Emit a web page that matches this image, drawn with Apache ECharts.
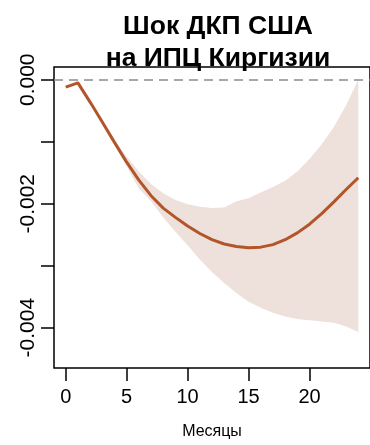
<!DOCTYPE html>
<html>
<head>
<meta charset="utf-8">
<script src="https://cdn.jsdelivr.net/npm/echarts@6/dist/echarts.min.js"></script>
<style>
  html, body { margin: 0; padding: 0; background: #fff; }
  #chart { width: 370px; height: 445px; }
</style>
</head>
<body>
<div id="chart"></div>
<script>
// Impulse response: horizon in months
const months = [0,1,2,3,4,5,6,7,8,9,10,11,12,13,14,15,16,17,18,19,20,21,22,23,24];
// Point estimate of the response
const response = [-0.00012,-0.00005,-0.00036,-0.00068,-0.00101,-0.00133,-0.00162,-0.00187,-0.00207,-0.00222,
  -0.00236,-0.00248,-0.00258,-0.00265,-0.00269,-0.00271,-0.00270,-0.00266,-0.00258,-0.00247,
  -0.00233,-0.00216,-0.00197,-0.00177,-0.00158];
// Confidence band bounds
const upperBound = [-0.00012,-0.00005,-0.00036,-0.00067,-0.00097,-0.00124,-0.00148,-0.00168,-0.00183,-0.00194,
  -0.00201,-0.00205,-0.00207,-0.00206,-0.00196,-0.00191,-0.00182,-0.00173,-0.00163,-0.00148,
  -0.00128,-0.00104,-0.00076,-0.00041,0.00000];
const lowerBound = [-0.00012,-0.00005,-0.00036,-0.00069,-0.00105,-0.00140,-0.00175,-0.00196,-0.00222,-0.00245,
  -0.00267,-0.00290,-0.00310,-0.00328,-0.00344,-0.00358,-0.00368,-0.00376,-0.00382,-0.00386,
  -0.00388,-0.00390,-0.00392,-0.00398,-0.00407];
// Axis ticks and labels
const xTicks = [0,5,10,15,20];
const yTicks = [0,-0.001,-0.002,-0.003,-0.004];
const yLabels = [0,-0.002,-0.004];

const FONT = 'Liberation Sans, Arial, sans-serif';
const chart = echarts.init(document.getElementById('chart'), null, { renderer: 'canvas' });

chart.setOption({
  animation: false,
  backgroundColor: '#ffffff',
  title: {
    text: 'Шок ДКП США\nна ИПЦ Киргизии',
    left: 213,
    top: 6,
    textAlign: 'center',
    textStyle: { fontFamily: FONT, fontWeight: 'bold', fontSize: 26.5, lineHeight: 32, color: '#000' }
  },
  grid: {
    left: 54, top: 67, right: -8, bottom: 71,
    show: true, borderColor: '#000', borderWidth: 1.5, backgroundColor: 'transparent'
  },
  xAxis: {
    type: 'value', min: -0.96, max: 24.96,
    name: 'Месяцы', nameLocation: 'middle', nameGap: 56,
    nameTextStyle: { fontFamily: FONT, fontSize: 16, color: '#000' },
    axisLine: { show: false, onZero: false },
    splitLine: { show: false },
    axisTick: { show: true, length: 13, customValues: xTicks, lineStyle: { color: '#000', width: 1.5 } },
    axisLabel: { customValues: xTicks, margin: 19, fontFamily: FONT, fontSize: 20, color: '#000' }
  },
  yAxis: {
    type: 'value', min: -0.00465, max: 0.000206,
    axisLine: { show: false, onZero: false },
    splitLine: { show: false },
    axisTick: { show: true, length: 13, customValues: yTicks, lineStyle: { color: '#000', width: 1.5 } },
    axisLabel: {
      customValues: yLabels, rotate: 90, margin: 15,
      fontFamily: FONT, fontSize: 21, color: '#000',
      formatter: v => v.toFixed(3)
    }
  },
  series: [
    {
      type: 'custom',
      silent: true,
      data: [0],
      renderItem: (params, api) => {
        const pts = [];
        for (let i = 0; i < months.length; i++) pts.push(api.coord([months[i], upperBound[i]]));
        for (let i = months.length - 1; i >= 0; i--) pts.push(api.coord([months[i], lowerBound[i]]));
        return { type: 'polygon', shape: { points: pts }, style: { fill: '#eee0da', stroke: null } };
      },
      z: 1
    },
    {
      type: 'line',
      data: months.map((m, i) => [m, response[i]]),
      showSymbol: false,
      lineStyle: { color: '#b3552a', width: 3 },
      z: 3,
      markLine: {
        silent: true,
        symbol: 'none',
        label: { show: false },
        lineStyle: { color: '#8c8c8c', type: [9, 6], width: 1.5 },
        data: [{ yAxis: 0 }]
      }
    }
  ]
});
</script>
</body>
</html>
